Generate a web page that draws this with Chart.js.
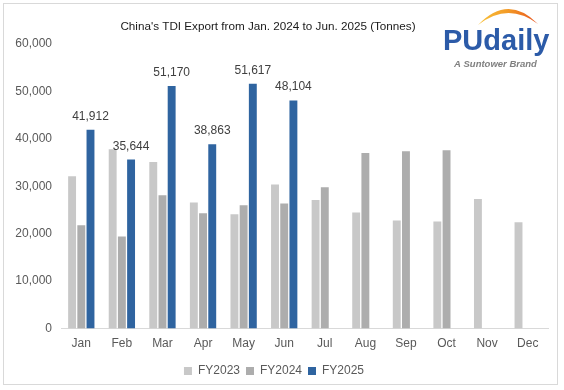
<!DOCTYPE html>
<html><head><meta charset="utf-8">
<script src="https://cdn.jsdelivr.net/npm/chart.js@4"></script>
<style>
html,body{margin:0;padding:0;background:#fff;}
#wrap{position:relative;width:564px;height:390px;}
#frame{position:absolute;left:3px;top:3px;width:555px;height:382px;border:1px solid #d9d9d9;box-sizing:border-box;pointer-events:none;}
canvas{display:block;}
</style></head>
<body>
<div id="wrap"><canvas id="c" width="564" height="390"></canvas><div id="frame"></div></div>
<script>
const categories = ['Jan','Feb','Mar','Apr','May','Jun','Jul','Aug','Sep','Oct','Nov','Dec'];
const fy2023 = [32100, 37800, 35100, 26600, 24100, 30400, 27100, 24500, 22800, 22600, 27300, 22400];
const fy2024 = [21800, 19400, 28100, 24300, 26000, 26400, 29800, 37000, 37400, 37600, null, null];
const fy2025 = [41912, 35644, 51170, 38863, 51617, 48104, null, null, null, null, null, null];
const yTicks = [0, 10000, 20000, 30000, 40000, 50000, 60000];
const titleText = "China's TDI Export from Jan. 2024 to Jun. 2025 (Tonnes)";

const FONT = "'Liberation Sans', Arial, sans-serif";

const decor = {
  id: 'decor',
  afterDatasetsDraw(chart) {
    const ctx = chart.ctx;
    ctx.save();
    // data labels for FY2025
    const meta = chart.getDatasetMeta(2);
    ctx.font = '12px ' + FONT;
    ctx.fillStyle = '#404040';
    ctx.textAlign = 'center';
    ctx.textBaseline = 'alphabetic';
    meta.data.forEach((el, i) => {
      const v = fy2025[i];
      if (v == null) return;
      ctx.fillText(v.toLocaleString('en-US'), el.x, el.y - 10);
    });
    // title
    ctx.font = '11.7px ' + FONT;
    ctx.fillStyle = '#1a1a1a';
    ctx.textBaseline = 'middle';
    ctx.fillText(titleText, 268, 27);
    // logo arc
    const g = ctx.createLinearGradient(478, 0, 538, 0);
    g.addColorStop(0, '#f8c23a');
    g.addColorStop(0.5, '#f39a26');
    g.addColorStop(1, '#e8521e');
    ctx.fillStyle = g;
    ctx.beginPath();
    ctx.moveTo(478, 25);
    ctx.quadraticCurveTo(508, -6.5, 538, 24);
    ctx.quadraticCurveTo(508, 1.5, 478, 25);
    ctx.fill();
    // logo text
    ctx.fillStyle = '#2c5ba8';
    ctx.textAlign = 'left';
    ctx.textBaseline = 'alphabetic';
    ctx.font = 'bold 29px ' + FONT;
    ctx.fillText('PUdaily', 443, 50);
    ctx.fillStyle = '#808080';
    ctx.font = 'italic bold 9.5px ' + FONT;
    ctx.fillText('A Suntower Brand', 454, 67);
    ctx.restore();
  }
};

new Chart(document.getElementById('c'), {
  type: 'bar',
  data: {
    labels: categories,
    datasets: [
      {label:'FY2023', data: fy2023, backgroundColor:'#c8c8c8'},
      {label:'FY2024', data: fy2024, backgroundColor:'#adadad'},
      {label:'FY2025', data: fy2025, backgroundColor:'#2f64a0'}
    ]
  },
  options: {
    responsive: false,
    animation: false,
    devicePixelRatio: 1,
    layout: {padding: {left: 0, right: 16, top: 44, bottom: 3}},
    datasets: {bar: {categoryPercentage: 0.68, barPercentage: 0.86}},
    plugins: {
      legend: {
        position: 'bottom',
        labels: {
          font: {family: FONT, size: 12},
          color: '#595959',
          boxWidth: 8, boxHeight: 8,
          padding: 6
        }
      },
      tooltip: {enabled: false},
      title: {display: false}
    },
    scales: {
      x: {
        grid: {display: false, drawTicks: false},
        border: {display: true, color: '#d9d9d9'},
        ticks: {font: {family: FONT, size: 12}, color: '#595959', padding: 8}
      },
      y: {
        min: 0, max: 60000,
        afterBuildTicks(s) { s.ticks = yTicks.map(v => ({value: v})); },
        afterFit(s) { s.width = 61; },
        grid: {display: false, drawTicks: false},
        border: {display: false},
        ticks: {
          font: {family: FONT, size: 12}, color: '#595959', padding: 9,
          callback: v => v.toLocaleString('en-US')
        }
      }
    }
  },
  plugins: [decor]
});
</script>
</body></html>
